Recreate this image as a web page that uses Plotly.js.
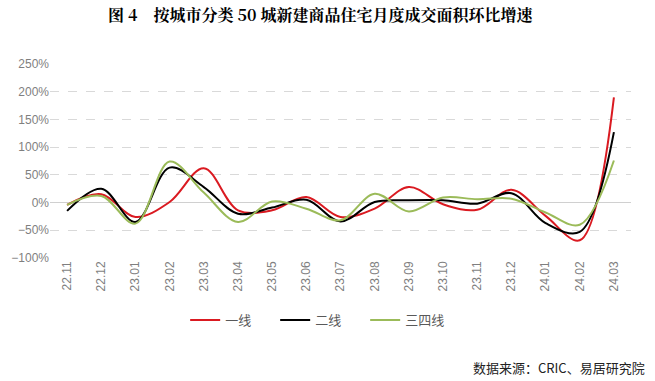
<!DOCTYPE html>
<html><head><meta charset="utf-8">
<script src="https://cdn.plot.ly/plotly-3.0.1.min.js"></script>
<style>body{margin:0;background:#fff}#c{width:655px;height:381px}</style>
</head><body><div id="c"></div>
<script>
const categories = ["22.11","22.12","23.01","23.02","23.03","23.04","23.05","23.06","23.07","23.08","23.09","23.10","23.11","23.12","24.01","24.02","24.03"];
const tier1 = [-4, 15, -26, 1, 62, -14, -14, 10, -26, -11, 28, -3, -13, 23, -24, -68, 190];
const tier2 = [-15, 25, -35, 63, 28, -20, -9, 5, -34, 1, 4, 4, -2, 17, -37, -53, 127];
const tier34 = [-4, 12, -38, 74, 18, -35, 2, -11, -32, 16, -16, 9, 6, 7, -18, -40, 76];
const names = ["一线","二线","三四线"];
const colors = ["#DA1A21","#000000","#9BBB59"];
const series = [tier1, tier2, tier34];
const traces = series.map((s,i)=>({
  x: categories, y: s, type:'scatter', mode:'lines', name:names[i],
  line:{color:colors[i], width:2, shape:'spline', smoothing:1}
}));
const layout = {
  width:655, height:381,
  margin:{l:50, r:24, t:64, b:123},
  paper_bgcolor:'#fff', plot_bgcolor:'#fff',
  font:{family:'"Liberation Sans", Arial, "Noto Sans CJK SC", sans-serif', size:12, color:'#7f7f7f'},
  title:{text:'<b>图 4　按城市分类 50 城新建商品住宅月度成交面积环比增速</b>', x:0.489, xanchor:'center', y:0.96, yanchor:'middle',
    font:{family:'"Noto Serif CJK SC","Noto Sans CJK SC", serif', size:16, color:'#000'}},
  xaxis:{type:'category', range:[-0.5,16.5], tickangle:-90, showgrid:false, showline:false, ticks:'', zeroline:false,
    tickfont:{size:12, color:'#7f7f7f'}, fixedrange:true},
  yaxis:{range:[-100,250], dtick:50, ticksuffix:'%', showgrid:true, gridcolor:'#d9d9d9', griddash:'dash', gridwidth:1,
    zeroline:true, zerolinecolor:'#d0d0d0', zerolinewidth:1.2, showline:false, ticks:'', tickfont:{size:12,color:'#7f7f7f'}},
  legend:{orientation:'h', x:0.465, xanchor:'center', y:-0.32, yanchor:'middle', font:{size:13, color:'#595959', family:'"Noto Sans CJK SC", sans-serif'},
    itemwidth:30, entrywidth:45, tracegroupgap:0},
  showlegend:true,
  annotations:[{text:'数据来源：CRIC、易居研究院', xref:'paper', yref:'paper', x:1.027, xanchor:'right', y:-0.564, yanchor:'middle',
    showarrow:false, font:{family:'"Noto Sans CJK SC", sans-serif', size:13, color:'#222'}}]
};
Plotly.newPlot('c', traces, layout, {displayModeBar:false, staticPlot:true});
</script></body></html>
